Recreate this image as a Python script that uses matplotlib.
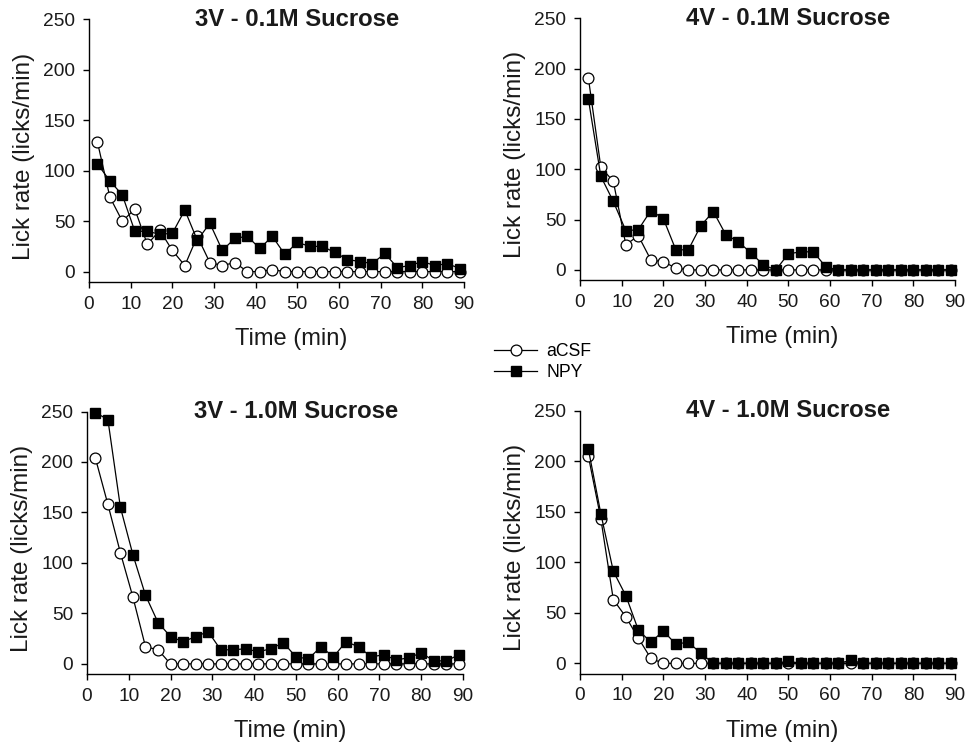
import numpy as np
import matplotlib
matplotlib.use('Agg')
import matplotlib.pyplot as plt

plt.rcParams['font.family'] = ['Liberation Sans', 'DejaVu Sans']

# tempo (min) de cada bin
tempo = [2, 5, 8, 11, 14, 17, 20, 23, 26, 29, 32, 35, 38, 41, 44,
         47, 50, 53, 56, 59, 62, 65, 68, 71, 74, 77, 80, 83, 86, 89]

titulos = ['3V - 0.1M Sucrose', '4V - 0.1M Sucrose',
           '3V - 1.0M Sucrose', '4V - 1.0M Sucrose']

acsf_3v_01 = [129, 74, 50, 62, 27, 41, 21, 6, 35, 9, 6, 9, 0, 0, 2,
              0, 0, 0, 0, 0, 0, 0, 0, 0, 0, 0, 0, 0, 0, 0]
npy_3v_01 = [107, 90, 76, 40, 40, 37, 38, 61, 31, 48, 21, 33, 35, 23, 35,
             17, 29, 25, 25, 19, 12, 10, 8, 18, 4, 6, 10, 6, 8, 3]

acsf_4v_01 = [191, 102, 88, 25, 34, 10, 8, 2, 0, 0, 0, 0, 0, 0, 0,
              0, 0, 0, 0, 0, 0, 0, 0, 0, 0, 0, 0, 0, 0, 0]
npy_4v_01 = [170, 93, 68, 39, 40, 59, 51, 20, 20, 44, 58, 35, 28, 17, 5,
             0, 16, 18, 18, 3, 0, 0, 0, 0, 0, 0, 0, 0, 0, 0]

acsf_3v_10 = [204, 158, 110, 66, 17, 14, 0, 0, 0, 0, 0, 0, 0, 0, 0,
              0, 0, 0, 0, 0, 0, 0, 0, 0, 0, 0, 0, 0, 0, 0]
npy_3v_10 = [249, 242, 155, 108, 68, 41, 27, 22, 27, 32, 14, 14, 15, 12, 15,
             21, 7, 5, 17, 7, 22, 17, 7, 9, 4, 6, 11, 3, 3, 9]

acsf_4v_10 = [205, 143, 63, 46, 25, 5, 0, 0, 0, 0, 0, 0, 0, 0, 0,
              0, 0, 0, 0, 0, 0, 0, 0, 0, 0, 0, 0, 0, 0, 0]
npy_4v_10 = [212, 148, 91, 67, 33, 21, 32, 19, 21, 10, 0, 0, 0, 0, 0,
             0, 2, 0, 0, 0, 0, 3, 0, 0, 0, 0, 0, 0, 0, 0]

dados = [(acsf_3v_01, npy_3v_01), (acsf_4v_01, npy_4v_01),
         (acsf_3v_10, npy_3v_10), (acsf_4v_10, npy_4v_10)]

W, H = 972, 749
fig = plt.figure(figsize=(W / 100, H / 100), dpi=100)

# posicoes dos paineis em pixels (esq, dir, topo, base)
caixas = [(89, 464, 19.5, 281.7), (580, 955, 18.3, 280),
          (87, 463, 411.5, 674), (580, 955, 410.5, 673.5)]

cor_texto = '#1a1a1a'
handles = None
for (esq, dir_, topo, base), titulo, (acsf, npy) in zip(caixas, titulos, dados):
    ax = fig.add_axes([esq / W, 1 - base / H, (dir_ - esq) / W, (base - topo) / H])
    l1, = ax.plot(tempo, acsf, '-o', color='black', lw=0.9, ms=7.8,
                  mfc='white', mec='black', mew=0.9, label='aCSF', clip_on=False)
    l2, = ax.plot(tempo, npy, '-s', color='black', lw=0.9, ms=7.2,
                  mfc='black', mec='black', label='NPY', clip_on=False)
    handles = [l1, l2]
    ax.set_xlim(0, 90)
    ax.set_ylim(-10, 250)
    ax.set_xticks(range(0, 91, 10))
    ax.set_yticks(range(0, 251, 50))
    for s in ['top', 'right']:
        ax.spines[s].set_visible(False)
    for s in ['left', 'bottom']:
        ax.spines[s].set_linewidth(1.0)
    ax.tick_params(direction='out', length=4, width=1.0, pad=6,
                   labelsize=13.8, labelcolor=cor_texto)
    ax.text(50, 250, titulo, ha='center', va='center', fontsize=17.2,
            fontweight='bold', color=cor_texto)
    ax.set_xlabel('Time (min)', fontsize=17, color=cor_texto)
    ax.xaxis.set_label_coords(0.54, -0.177)
    ax.set_ylabel('Lick rate (licks/min)', fontsize=17.5, color=cor_texto)
    ax.yaxis.set_label_coords(-54 / (dir_ - esq), 0.479)

fig.legend(handles=handles, loc='center left',
           bbox_to_anchor=(494 / W, 1 - 362 / H), frameon=False,
           fontsize=12.7, handlelength=2.45, handletextpad=0.5,
           labelspacing=0.2, borderpad=0, borderaxespad=0)

plt.savefig('out.png', dpi=100)
